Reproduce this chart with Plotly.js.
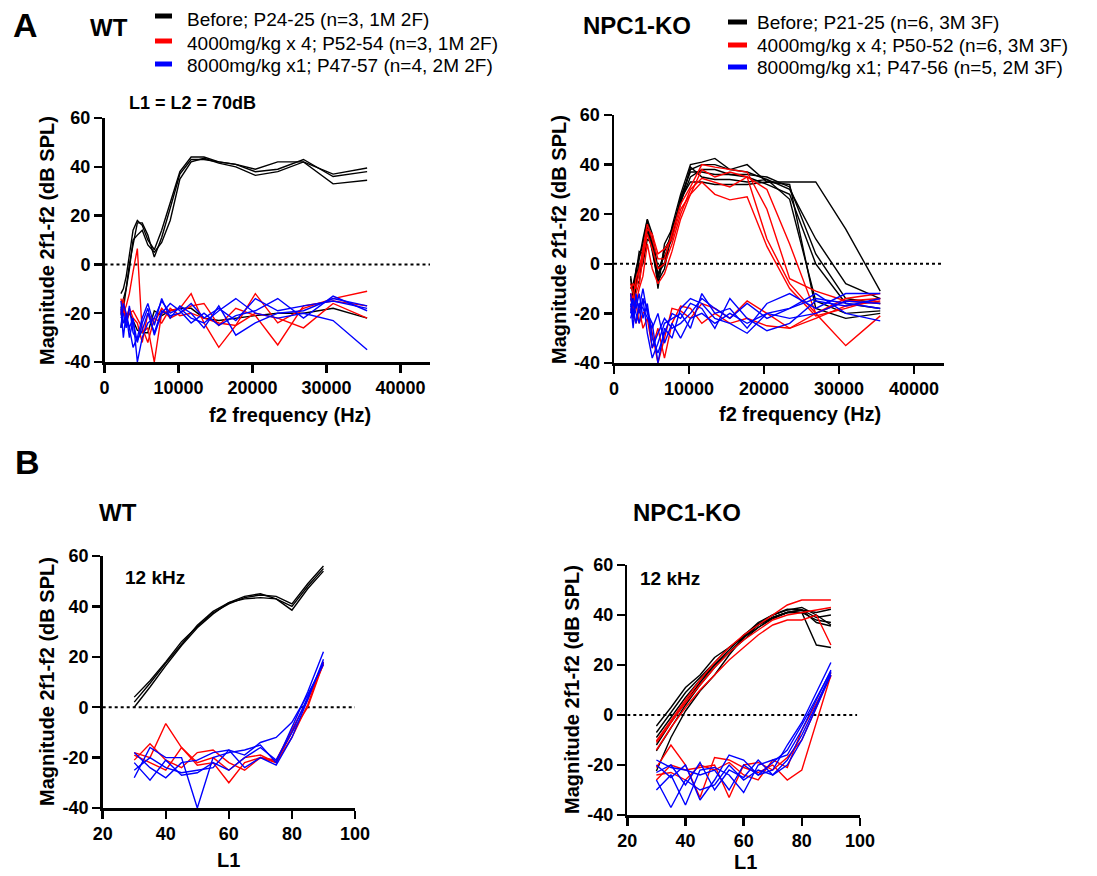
<!DOCTYPE html>
<html><head><meta charset="utf-8">
<script src="https://cdn.plot.ly/plotly-3.0.1.min.js"></script>
<style>html,body{margin:0;padding:0;background:#fff}#chart{width:1097px;height:876px}</style>
</head><body><div id="chart"></div><script>
// ---------- data ----------
const freqHz = [2220, 2550, 2930, 3360, 3860, 4440, 5100, 5860, 6730, 7730, 8880, 10190, 11710, 13450, 15450, 17750, 20390, 23420, 26900, 30900, 35500];
const levelL1 = [30, 35, 40, 45, 50, 55, 60, 65, 70, 75, 80, 85, 90];

// Panel A, WT
const wtA_before = [
  [-12, -10, -5, 4, 14, 18, 16, 10, 6, 14, 25, 38, 44, 44, 42, 41, 39, 42, 42, 37, 39.5],
  [-26, -18, -8, 0, 8, 17, 17, 12, 3, 11, 23, 37, 43, 43, 42, 41, 38, 39, 43, 36, 38],
  [-18, -14, -10, -2, 10, 12, 14, 8, 5, 9, 18, 35, 42, 43.5, 41.5, 40, 36.5, 38, 42, 33, 34.5],
  [-20, -24, -22, -20, -23, -27, -28, -28, -19, -21, -19, -18, -18, -22, -23, -22, -21, -20, -20, -18, -22]
];
const wtA_4000x4 = [
  [-18, -20, -17, -12, -3, 6.5, -28, -26, -40, -20, -19, -18, -12, -24, -34, -25, -12, -24, -18, -14, -11],
  [-20, -14, -22, -18, -22, -24, -32, -20, -24, -18, -22, -20, -17, -16, -25, -18, -21, -33, -17, -15, -17],
  [-14, -18, -24, -20, -19, -22, -26, -32, -22, -24, -18, -21, -20, -22, -24, -25, -20, -22, -26, -16, -22]
];
const wtA_8000x1 = [
  [-18, -30, -20, -26, -22, -40, -30, -24, -22, -15, -20, -18, -22, -24, -19, -14, -20, -22, -20, -23, -35],
  [-22, -20, -26, -17, -28, -31, -27, -20, -28, -19, -21, -20, -16, -22, -18, -23, -14, -19, -17, -15, -18],
  [-15, -24, -22, -26, -34, -30, -22, -16, -25, -14, -22, -17, -20, -26, -17, -29, -24, -20, -19, -14, -17],
  [-26, -16, -20, -30, -23, -32, -24, -18, -29, -20, -16, -19, -24, -20, -25, -21, -19, -14, -22, -13, -19]
];

// Panel A, NPC1-KO
const koA_before = [
  [-5, -14, -2, 3, 8, 17.7, 8, -4, 0, 15, 28, 40, 41, 42.5, 38, 40, 33, 33, 33, 14, -11],
  [-17, -18, -10, -1, 2, 15, 6, -6, 5, 12, 26, 38, 40, 40, 38, 37, 34, 30, 10, -8, -14],
  [-8, -10, -6, -8, 6, 12, 10, -10, 8, 14, 25, 35, 38, 38, 36, 36, 35, 31, 4, -14, -16],
  [-12, -15, -8, 2, 10, 18, 12, -2, 3, 10, 27, 37, 37, 36, 36, 35, 32, 28, 0, -16, -18],
  [-6, -12, -4, 5, 4, 14, 5, -7, -2, 13, 24, 39, 35, 34, 34, 33, 34, 26, -15, -20, -19],
  [-10, -8, -3, -3, 0, 10, 8, -5, 6, 11, 26, 33, 33, 32, 32, 32, 33, 32, -18, -22, -20]
];
const koA_4000x4 = [
  [-12, -14, -6, -2, 6, 16, 10, 2, 2, 12, 24, 31, 40, 39, 38, 37, 22, -6, -11, -15, -14],
  [-10, -8, -10, -4, 4, 14, 12, 4, 6, 10, 22, 28, 38, 35, 37, 35, 30, 8, -20, -14, -12],
  [-14, -18, -12, -8, 2, 12, 6, -2, 0, 8, 20, 30, 34.5, 33, 31, 35, 10, -8, -20, -15, -16],
  [-8, -12, -16, -10, -5, 8, -2, -8, -4, 5, 18, 28, 33, 28, 25.8, 27, 7, -10, -21, -18, -14],
  [-18, -22, -16, -24, -20, -18, -28, -40, -30, -18, -19, -22, -16, -18, -22, -15, -20, -26, -20, -33, -21],
  [-12, -20, -24, -18, -26, -22, -34, -26, -38, -24, -17, -18, -24, -20, -24, -22, -25, -26, -22, -17, -15]
];
const koA_8000x1 = [
  [-12, -22, -14, -18, -10, -20, -24, -40, -26, -30, -18, -14, -16, -22, -24, -28, -20, -18, -14, -16, -18],
  [-16, -26, -12, -20, -14, -28, -38, -32, -24, -22, -20, -26, -12, -20, -18, -26, -16, -12, -18, -12, -12],
  [-20, -14, -18, -12, -22, -16, -30, -36, -28, -20, -22, -16, -18, -26, -14, -22, -27, -24, -15, -17, -14],
  [-22, -18, -24, -16, -18, -22, -26, -20, -32, -24, -30, -22, -20, -24, -20, -24, -20, -22, -20, -15, -16],
  [-14, -16, -20, -24, -14, -18, -34, -28, -22, -26, -24, -20, -14, -18, -22, -16, -22, -18, -12, -20, -23]
];

// Panel B, WT (12 kHz)
const wtB_before = [
  [4, 10.5, 18, 26, 32, 37.5, 41, 43.5, 44.5, 44, 41, 49, 56],
  [2, 9.5, 17.5, 25, 32.5, 38, 41.5, 44, 45, 43, 38.5, 47, 54],
  [0, 8, 16.5, 24.5, 31.5, 37, 41.5, 43, 43.5, 43, 40, 48, 55]
];
const wtB_4000x4 = [
  [-18, -20, -6.5, -16, -23, -22, -30, -22, -20, -22, -12, 1, 18],
  [-21, -14.5, -21, -24, -18, -17, -22, -25, -20, -21, -9, 3, 17],
  [-19, -22, -25, -16, -22, -20, -25, -20, -19, -22, -10, 0, 17.5]
];
const wtB_8000x1 = [
  [-28, -16, -20, -20, -40, -20, -18, -17, -15, -22, -8, 6, 22],
  [-18, -24, -28, -22, -21, -18, -17, -24, -20, -23, -12, 3, 19],
  [-22, -29, -21, -27, -26, -22, -25, -20, -16, -21, -10, 4, 18],
  [-25, -20, -24, -26, -25, -24, -17, -19, -14, -12, -6, 5, 17]
];

// Panel B, NPC1-KO (12 kHz)
const koB_before = [
  [-4.4, 3, 11, 16, 23, 27, 31.6, 37, 40, 42.3, 42, 41, 42.3],
  [-7, 1, 9, 15, 21, 27, 31, 36, 39, 41, 42, 39, 40],
  [-9, -1, 7, 14, 20, 26, 32, 36.5, 40, 42, 43, 40, 36],
  [-12, -3, 5, 13, 20, 25, 31, 35, 39, 41, 42, 37, 35.6],
  [-14.4, -5, 4, 12, 19, 25, 30, 35, 38.5, 41, 41, 38, 37],
  [-22.4, -9, 1.6, 9.6, 16, 24, 31, 36, 39, 41, 41, 28, 27]
];
const koB_4000x4 = [
  [-10.4, -2, 6, 14, 21, 27, 32, 36, 40, 44, 46, 46, 46],
  [-11, -3, 5, 12, 19, 25, 30, 34, 38, 40, 41, 42, 43],
  [-14, -5, 3, 10, 16, 22, 27, 32, 36, 38, 38, 40, 28],
  [-21, -12, -20, -33, -17, -18, -21, -23, -20, -26, -22, -3, 16],
  [-26, -20, -22, -21, -20, -33, -20, -19, -22, -17, -10, 3, 17],
  [-24, -23, -26, -20, -22, -19, -24, -26, -18, -21, -6, 5, 15.5]
];
const koB_8000x1 = [
  [-18, -21, -22, -24, -22, -30, -20, -24, -22, -12, -3, 9, 21],
  [-30, -24, -36, -22, -21, -24, -31, -20, -18, -16, -6, 6, 18],
  [-26, -37, -26, -30, -28, -20, -26, -22, -24, -18, -8, 4, 17],
  [-20, -25, -20, -34, -26, -16, -18, -24, -19, -14, -4, 7, 17.5],
  [-23, -20, -28, -19, -30, -22, -25, -18, -24, -20, -10, 3, 16]
];

const freqTickVals = [0, 10000, 20000, 30000, 40000];
const freqTickText = ['0', '10000', '20000', '30000', '40000'];
const l1TickVals = [20, 40, 60, 80, 100];
const l1TickText = ['20', '40', '60', '80', '100'];
const magTickVals = [-40, -20, 0, 20, 40, 60];
const magTickText = ['-40', '-20', '0', '20', '40', '60'];

const legendWT = ['Before; P24-25 (n=3, 1M 2F)', '4000mg/kg x 4; P52-54 (n=3, 1M 2F)', '8000mg/kg x1; P47-57 (n=4, 2M 2F)'];
const legendKO = ['Before; P21-25 (n=6, 3M 3F)', '4000mg/kg x 4; P50-52 (n=6, 3M 3F)', '8000mg/kg x1; P47-56 (n=5, 2M 3F)'];
const groupColors = ['#000000', '#ff0000', '#0000ff'];

// ---------- figure ----------
const W = 1097, H = 876;
const FONT = 'Liberation Sans, Arial, Helvetica, sans-serif';
const px = (a, b) => [a / W, b / W];
const py = (top, bottom) => [1 - bottom / H, 1 - top / H];

const traces = [];
function addGroup(series, xs, color, xa, ya) {
  series.forEach(v => traces.push({
    type: 'scatter', mode: 'lines', x: xs, y: v, xaxis: xa, yaxis: ya,
    line: {color: color, width: 1.4}, showlegend: false, hoverinfo: 'skip'
  }));
}
addGroup(wtA_before, freqHz, groupColors[0], 'x', 'y');
addGroup(wtA_4000x4, freqHz, groupColors[1], 'x', 'y');
addGroup(wtA_8000x1, freqHz, groupColors[2], 'x', 'y');
addGroup(koA_before, freqHz, groupColors[0], 'x2', 'y2');
addGroup(koA_4000x4, freqHz, groupColors[1], 'x2', 'y2');
addGroup(koA_8000x1, freqHz, groupColors[2], 'x2', 'y2');
addGroup(wtB_before, levelL1, groupColors[0], 'x3', 'y3');
addGroup(wtB_4000x4, levelL1, groupColors[1], 'x3', 'y3');
addGroup(wtB_8000x1, levelL1, groupColors[2], 'x3', 'y3');
addGroup(koB_before, levelL1, groupColors[0], 'x4', 'y4');
addGroup(koB_4000x4, levelL1, groupColors[1], 'x4', 'y4');
addGroup(koB_8000x1, levelL1, groupColors[2], 'x4', 'y4');

const tickFont = {family: FONT, size: 18, color: '#000', weight: 'bold'};
function xAxis(domain, range, vals, text, anchor) {
  return {domain, range, anchor, tickvals: vals, ticktext: text, showline: true, linewidth: 2.5, linecolor: '#000',
    ticks: 'outside', ticklen: 8, tickwidth: 2.5, tickcolor: '#000', showgrid: false, zeroline: false, tickfont: tickFont, fixedrange: true};
}
function yAxis(domain, anchor) {
  return {domain, range: [-40, 60], anchor, tickvals: magTickVals, ticktext: magTickText, showline: true, linewidth: 2.5, linecolor: '#000',
    ticks: 'outside', ticklen: 8, tickwidth: 2.5, tickcolor: '#000', showgrid: false, zeroline: false, tickfont: tickFont, fixedrange: true};
}

const shapes = [
  {type: 'line', xref: 'x', yref: 'y', x0: 0, x1: 44000, y0: 0, y1: 0, line: {color: '#000', width: 2, dash: 'dot'}, layer: 'below'},
  {type: 'line', xref: 'x2', yref: 'y2', x0: 0, x1: 44000, y0: 0, y1: 0, line: {color: '#000', width: 2, dash: 'dot'}, layer: 'below'},
  {type: 'line', xref: 'x3', yref: 'y3', x0: 20, x1: 100, y0: 0, y1: 0, line: {color: '#000', width: 2, dash: 'dot'}, layer: 'below'},
  {type: 'line', xref: 'x4', yref: 'y4', x0: 20, x1: 99, y0: 0, y1: 0, line: {color: '#000', width: 2, dash: 'dot'}, layer: 'below'}
];
const annotations = [];
function txt(text, x, y, size, bold, opts) {
  annotations.push(Object.assign({text, x: x / W, y: 1 - y / H, xref: 'paper', yref: 'paper', showarrow: false,
    xanchor: 'center', yanchor: 'middle', font: {family: FONT, size, color: '#000', weight: bold ? 'bold' : 'normal'}}, opts || {}));
}
// legends
const wtRows = [[16, 19], [41, 43], [64, 66]];
const koRows = [[22, 22], [45, 45.5], [67, 68]];
legendWT.forEach((t, i) => {
  shapes.push({type: 'line', xref: 'paper', yref: 'paper', x0: 155 / W, x1: 172 / W, y0: 1 - wtRows[i][0] / H, y1: 1 - wtRows[i][0] / H, line: {color: groupColors[i], width: 5}});
  txt(t, 185, wtRows[i][1], 19, false, {xanchor: 'left'});
});
legendKO.forEach((t, i) => {
  shapes.push({type: 'line', xref: 'paper', yref: 'paper', x0: 728 / W, x1: 747 / W, y0: 1 - koRows[i][0] / H, y1: 1 - koRows[i][0] / H, line: {color: groupColors[i], width: 5}});
  txt(t, 755, koRows[i][1], 19, false, {xanchor: 'left'});
});
txt('A', 25, 25, 34, true);
txt('B', 27, 462, 34, true);
txt('WT', 109, 27, 24, true);
txt('NPC1-KO', 637, 26, 24, true);
txt('WT', 118, 512, 24, true);
txt('NPC1-KO', 687, 512, 24, true);
txt('L1 = L2 = 70dB', 192, 103, 18, true);
txt('12 kHz', 155, 577, 19, true);
txt('12 kHz', 670, 578, 19, true);
const yTitle = 'Magnitude 2f1-f2 (dB SPL)';
txt(yTitle, 47, 241, 20, true, {textangle: -90});
txt(yTitle, 559, 240, 20, true, {textangle: -90});
txt(yTitle, 47, 682, 20, true, {textangle: -90});
txt(yTitle, 572, 690, 20, true, {textangle: -90});
txt('f2 frequency (Hz)', 290, 415, 20, true);
txt('f2 frequency (Hz)', 800, 414, 20, true);
txt('L1', 228, 860, 20, true);
txt('L1', 745, 862, 20, true);

const layout = {
  width: W, height: H, margin: {l: 0, r: 0, t: 0, b: 0}, paper_bgcolor: '#fff', plot_bgcolor: 'rgba(0,0,0,0)',
  showlegend: false, font: {family: FONT, color: '#000'},
  xaxis: xAxis(px(104.5, 430), [0, 44000], freqTickVals, freqTickText, 'y'),
  yaxis: yAxis(py(118, 362), 'x'),
  xaxis2: xAxis(px(614, 944), [0, 44000], freqTickVals, freqTickText, 'y2'),
  yaxis2: yAxis(py(115, 363), 'x2'),
  xaxis3: xAxis(px(102.7, 355), [20, 100], l1TickVals, l1TickText, 'y3'),
  yaxis3: yAxis(py(556, 808), 'x3'),
  xaxis4: xAxis(px(627.3, 860), [20, 100], l1TickVals, l1TickText, 'y4'),
  yaxis4: yAxis(py(565, 815), 'x4'),
  shapes, annotations
};
Plotly.newPlot('chart', traces, layout, {staticPlot: true, displayModeBar: false});
</script></body></html>
